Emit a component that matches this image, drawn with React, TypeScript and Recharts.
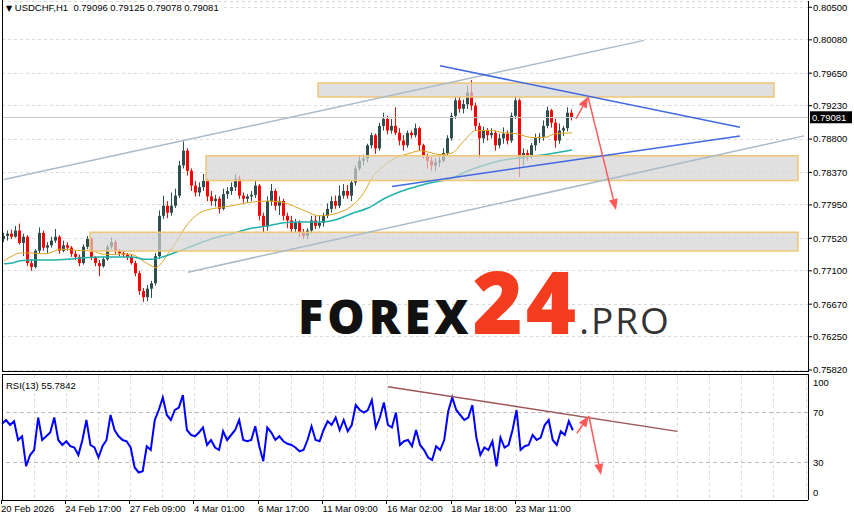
import React from "react";
import {
  ComposedChart,
  Bar,
  Line,
  XAxis,
  YAxis,
  CartesianGrid,
  ReferenceLine,
  ReferenceArea,
} from "recharts";

const FONT = '"Liberation Sans", Arial, sans-serif';
const BULL = "#2F4F4F";
const BEAR = "#FF0000";

const opens = [
  0.7751, 0.7755, 0.7758, 0.7754, 0.7762, 0.7746, 0.7754, 0.772, 0.7715, 0.7736,
  0.7759, 0.774, 0.7743, 0.7749, 0.7754, 0.7736, 0.7743, 0.774, 0.7732, 0.7728,
  0.772, 0.7741, 0.7751, 0.7728, 0.772, 0.7716, 0.7725, 0.7741, 0.7747, 0.7736,
  0.7733, 0.7731, 0.7728, 0.772, 0.7707, 0.7684, 0.7676, 0.7687, 0.7694, 0.7729,
  0.7781, 0.7794, 0.7785, 0.7794, 0.7807, 0.7846, 0.7865, 0.7839, 0.782, 0.7811,
  0.7818, 0.7826, 0.7806, 0.78, 0.7803, 0.779, 0.7809, 0.7813, 0.7818, 0.7829,
  0.7807, 0.7803, 0.7806, 0.7808, 0.782, 0.7781, 0.7767, 0.78, 0.7813, 0.7794,
  0.78, 0.7781, 0.7775, 0.7764, 0.7772, 0.7759, 0.7755, 0.7762, 0.7775, 0.7768,
  0.7772, 0.7781, 0.779, 0.78, 0.7794, 0.7807, 0.7813, 0.7807, 0.7824, 0.7842,
  0.7852, 0.7855, 0.7872, 0.7885, 0.7868, 0.7897, 0.7906, 0.7891, 0.7897, 0.7888,
  0.7878, 0.7872, 0.7888, 0.7885, 0.7894, 0.7872, 0.7859, 0.7852, 0.7846, 0.785,
  0.7852, 0.7862, 0.7881, 0.791, 0.793, 0.7919, 0.7925, 0.794, 0.7923, 0.7897,
  0.7881, 0.7891, 0.7885, 0.7888, 0.7872, 0.7881, 0.7887, 0.7878, 0.791, 0.793,
  0.7855, 0.7862, 0.7857, 0.7872, 0.7881, 0.7883, 0.7897, 0.7917, 0.7901, 0.7878,
  0.7891, 0.7894, 0.7914,
];
const highs = [
  0.7759, 0.7762, 0.7763, 0.7768, 0.7771, 0.7758, 0.7756, 0.7725, 0.7738, 0.7766,
  0.7762, 0.7747, 0.7754, 0.7764, 0.7756, 0.7749, 0.7747, 0.7742, 0.7736, 0.7731,
  0.7744, 0.7755, 0.7753, 0.7729, 0.7724, 0.7728, 0.7744, 0.7753, 0.775, 0.7738,
  0.7736, 0.7733, 0.7731, 0.7723, 0.771, 0.7688, 0.7692, 0.7697, 0.7733, 0.7788,
  0.7807, 0.78, 0.7811, 0.7816, 0.7852, 0.7877, 0.7868, 0.7842, 0.7826, 0.7824,
  0.7835, 0.7829, 0.7813, 0.7808, 0.7806, 0.7816, 0.7818, 0.7824, 0.7835, 0.7833,
  0.7811, 0.7809, 0.7813, 0.7826, 0.7822, 0.7785, 0.7806, 0.7822, 0.7816, 0.7806,
  0.7803, 0.7785, 0.7781, 0.7777, 0.7775, 0.7764, 0.7765, 0.7781, 0.7781, 0.7781,
  0.7785, 0.7797, 0.7806, 0.7807, 0.782, 0.7822, 0.7821, 0.7826, 0.7846, 0.7859,
  0.786, 0.7874, 0.7888, 0.7887, 0.7901, 0.7914, 0.791, 0.7906, 0.7921, 0.7894,
  0.7885, 0.7891, 0.7891, 0.79, 0.7896, 0.7874, 0.7861, 0.7857, 0.7855, 0.7857,
  0.7868, 0.7885, 0.7914, 0.7935, 0.7934, 0.7931, 0.7949, 0.7956, 0.7927, 0.7901,
  0.7896, 0.7894, 0.7894, 0.7891, 0.7887, 0.7895, 0.7891, 0.7914, 0.7936, 0.7932,
  0.7868, 0.7866, 0.7875, 0.7887, 0.7888, 0.7904, 0.7922, 0.7919, 0.7906, 0.79,
  0.7897, 0.7921, 0.7918,
];
const lows = [
  0.7747, 0.7749, 0.7751, 0.7753, 0.7744, 0.7729, 0.7716, 0.771, 0.7713, 0.7733,
  0.7736, 0.7733, 0.774, 0.7746, 0.7732, 0.7734, 0.7736, 0.7728, 0.7724, 0.7716,
  0.7718, 0.7738, 0.7724, 0.7716, 0.7703, 0.7714, 0.7723, 0.7738, 0.7732, 0.7729,
  0.7727, 0.7724, 0.7718, 0.7703, 0.7679, 0.767, 0.7671, 0.7675, 0.7691, 0.7725,
  0.7777, 0.7778, 0.7781, 0.7791, 0.7804, 0.7842, 0.7833, 0.7813, 0.7806, 0.7806,
  0.7813, 0.78, 0.7794, 0.7793, 0.7784, 0.7788, 0.7803, 0.7808, 0.7813, 0.7803,
  0.7798, 0.7798, 0.78, 0.7804, 0.7775, 0.7759, 0.7762, 0.7794, 0.7788, 0.7782,
  0.7775, 0.7765, 0.7759, 0.7759, 0.7754, 0.7751, 0.7751, 0.7758, 0.7764, 0.7765,
  0.7767, 0.7778, 0.7785, 0.779, 0.7791, 0.7803, 0.7803, 0.78, 0.782, 0.7839,
  0.7846, 0.785, 0.7868, 0.7861, 0.7865, 0.7891, 0.7886, 0.7887, 0.7885, 0.7872,
  0.7865, 0.7869, 0.7881, 0.7882, 0.7865, 0.7855, 0.7842, 0.7839, 0.7839, 0.7844,
  0.785, 0.7859, 0.7878, 0.7906, 0.7914, 0.7913, 0.7919, 0.7917, 0.7891, 0.7856,
  0.7875, 0.7878, 0.7881, 0.7865, 0.7868, 0.7874, 0.7873, 0.7875, 0.7906, 0.7831,
  0.7846, 0.7852, 0.7855, 0.7865, 0.7875, 0.7878, 0.7894, 0.7895, 0.7869, 0.7874,
  0.7884, 0.789, 0.7904,
];
const closes = [
  0.7755, 0.7758, 0.7754, 0.7762, 0.7746, 0.7754, 0.772, 0.7715, 0.7736, 0.7759,
  0.774, 0.7743, 0.7749, 0.7754, 0.7736, 0.7743, 0.774, 0.7732, 0.7728, 0.772,
  0.7741, 0.7751, 0.7728, 0.772, 0.7716, 0.7725, 0.7741, 0.7747, 0.7736, 0.7733,
  0.7731, 0.7728, 0.772, 0.7707, 0.7684, 0.7676, 0.7687, 0.7694, 0.7729, 0.7781,
  0.7794, 0.7785, 0.7794, 0.7807, 0.7846, 0.7865, 0.7839, 0.782, 0.7811, 0.7818,
  0.7826, 0.7806, 0.78, 0.7803, 0.779, 0.7809, 0.7813, 0.7818, 0.7829, 0.7807,
  0.7803, 0.7806, 0.7808, 0.782, 0.7781, 0.7767, 0.78, 0.7813, 0.7794, 0.78,
  0.7781, 0.7775, 0.7764, 0.7772, 0.7759, 0.7755, 0.7762, 0.7775, 0.7768, 0.7772,
  0.7781, 0.779, 0.78, 0.7794, 0.7807, 0.7813, 0.7807, 0.7824, 0.7842, 0.7852,
  0.7855, 0.7872, 0.7885, 0.7868, 0.7897, 0.7906, 0.7891, 0.7897, 0.7888, 0.7878,
  0.7872, 0.7888, 0.7885, 0.7894, 0.7872, 0.7859, 0.7852, 0.7846, 0.785, 0.7852,
  0.7862, 0.7881, 0.791, 0.793, 0.7919, 0.7925, 0.794, 0.7923, 0.7897, 0.7881,
  0.7891, 0.7885, 0.7888, 0.7872, 0.7881, 0.7887, 0.7878, 0.791, 0.793, 0.7855,
  0.7862, 0.7857, 0.7872, 0.7881, 0.7883, 0.7897, 0.7917, 0.7901, 0.7878, 0.7891,
  0.7894, 0.7914, 0.79081,
];

// moving averages, read at a handful of candles
const maFastSlots = [
  0, 2, 4, 7, 10, 12, 14, 17, 19, 22, 24, 27, 29, 32, 33, 35, 37, 38, 39, 41, 43, 46, 49,
  53, 57, 61, 66, 70, 74, 79, 83, 87, 90, 92, 95, 98, 101, 104, 107, 109, 112, 115, 118,
  122, 125, 128, 132, 135, 138, 142,
];
const maFastValues = [
  0.7723, 0.7729, 0.7733, 0.7733, 0.7732, 0.7734, 0.7738, 0.7737, 0.7736, 0.7736, 0.7732,
  0.7731, 0.7732, 0.7731, 0.7729, 0.7722, 0.7716, 0.7714, 0.7718, 0.7732, 0.7747, 0.7771,
  0.7785, 0.7791, 0.7794, 0.7798, 0.78, 0.7798, 0.779, 0.7781, 0.7784, 0.7794, 0.7811,
  0.783, 0.7846, 0.7856, 0.7861, 0.7865, 0.7862, 0.786, 0.7862, 0.7878, 0.7891, 0.7891,
  0.7888, 0.7887, 0.7882, 0.7882, 0.7887, 0.7888,
];
const maSlowSlots = [
  0, 2, 4, 7, 12, 16, 20, 24, 28, 32, 35, 37, 39, 43, 49, 53, 57, 61, 66, 70, 74, 79, 83,
  87, 91, 95, 99, 104, 107, 111, 117, 124, 129, 134, 142,
];
const maSlowValues = [
  0.7719, 0.772, 0.7723, 0.7724, 0.7724, 0.7725, 0.7727, 0.7728, 0.7728, 0.7728, 0.7725,
  0.7725, 0.7727, 0.7734, 0.7746, 0.7753, 0.7758, 0.7764, 0.7768, 0.7772, 0.7773, 0.7773,
  0.7776, 0.7784, 0.7791, 0.7803, 0.7812, 0.782, 0.7824, 0.7828, 0.7841, 0.7852, 0.7856,
  0.7859, 0.7866,
];

// RSI(13), one value per candle
const rsiValues = [
  61, 64, 60, 63, 48, 51, 27, 36, 40, 66, 48, 51, 54, 66, 48, 44, 47, 43, 42, 36, 48, 64,
  44, 42, 34, 43, 48, 68, 56, 51, 48, 47, 42, 26, 22, 23, 43, 40, 64, 72, 82, 68, 64, 72,
  74, 84, 56, 52, 51, 54, 58, 44, 48, 42, 40, 55, 48, 52, 56, 64, 48, 47, 48, 59, 43, 31,
  58, 54, 48, 51, 47, 45, 44, 42, 39, 40, 48, 59, 48, 47, 56, 63, 60, 66, 56, 64, 55, 60,
  76, 72, 70, 72, 80, 58, 66, 78, 60, 58, 70, 44, 47, 48, 43, 56, 44, 40, 34, 32, 43, 40,
  48, 71, 82, 72, 68, 64, 66, 76, 50, 36, 42, 40, 47, 27, 50, 42, 44, 56, 72, 40, 43, 44,
  52, 48, 50, 60, 64, 48, 44, 55, 52, 63, 55.7842,
];

const priceTicks = [
  0.805, 0.8008, 0.7965, 0.7923, 0.788, 0.7837, 0.7795, 0.7752, 0.771, 0.7667, 0.7625,
  0.7582,
];
const rsiTicks = [0, 30, 70, 100];
const gridSlots = [
  0, 8, 16, 24, 32, 40, 48, 56, 64, 72, 80, 88, 96, 104, 112, 120, 128, 136, 144, 152, 160,
  168, 176, 184, 192, 200,
];
const dateSlots = [0, 16, 32, 48, 64, 80, 96, 112, 128];
const dateLabels = [
  "20 Feb 2026",
  "24 Feb 17:00",
  "27 Feb 09:00",
  "4 Mar 01:00",
  "6 Mar 17:00",
  "11 Mar 09:00",
  "16 Mar 02:00",
  "18 Mar 18:00",
  "23 Mar 11:00",
];

// drawn objects: [slot, price] pairs
const channelUpper = [[0, 0.78277], [160, 0.80073]];
const channelLower = [[46, 0.77083], [200, 0.78841]];
const wedgeTop = [[109, 0.79745], [184, 0.78953]];
const wedgeBottom = [[97, 0.78189], [184, 0.7884]];
const arrowUp = [[143, 0.79059], [146, 0.79347]];
const arrowDown = [[146, 0.79347], [153, 0.77885]];
const zones = [
  { x1: 79, x2: 192, y1: 0.79343, y2: 0.79523 },
  { x1: 51, x2: 198, y1: 0.78266, y2: 0.78585 },
  { x1: 22, x2: 198, y1: 0.77356, y2: 0.77597 },
];
const rsiTrend = [[96, 90.6], [168, 54.9]];
const rsiArrowUp = [[143, 53.4], [146, 67.2]];
const rsiArrowDown = [[146, 67.2], [149, 20]];

const SLOTS = 201;
const lastPrice = closes[closes.length - 1];

const fastBySlot = new Map(maFastSlots.map((s, k) => [s, maFastValues[k]]));
const slowBySlot = new Map(maSlowSlots.map((s, k) => [s, maSlowValues[k]]));
const labelBySlot = new Map(dateSlots.map((s, k) => [s, dateLabels[k]]));

const rows = Array.from({ length: SLOTS }, (_, i) => {
  const has = i < closes.length;
  return {
    i,
    range: has ? [lows[i], highs[i]] : null,
    o: has ? opens[i] : null,
    h: has ? highs[i] : null,
    l: has ? lows[i] : null,
    c: has ? closes[i] : null,
    maFast: fastBySlot.get(i) ?? null,
    maSlow: slowBySlot.get(i) ?? null,
    rsi: has ? rsiValues[i] : null,
  };
});

const seg = (pts: number[][]) => pts.map(([x, y]) => ({ x, y }));

function Candle(props: any) {
  const { x, y, width, height, payload } = props;
  if (!payload || payload.h == null || width == null) return null;
  const top = Math.min(y, y + height);
  const bottom = Math.max(y, y + height);
  const span = payload.h - payload.l;
  const at = (p: number) => (span > 0 ? top + ((payload.h - p) / span) * (bottom - top) : top);
  const color = payload.c >= payload.o ? BULL : BEAR;
  const left = Math.round(x);
  const bTop = at(Math.max(payload.o, payload.c));
  const bBot = at(Math.min(payload.o, payload.c));
  return (
    <g>
      <rect x={left + 1} y={top} width={1} height={Math.max(1, bottom - top)} fill={color} />
      <rect x={left} y={bTop} width={3} height={Math.max(1, bBot - bTop)} fill={color} />
    </g>
  );
}

function ArrowShape(props: any) {
  const { x1, y1, x2, y2 } = props;
  const a = Math.atan2(y2 - y1, x2 - x1);
  const len = 11;
  const half = 4.5;
  const bx = x2 - len * Math.cos(a);
  const by = y2 - len * Math.sin(a);
  const px = -Math.sin(a) * half;
  const py = Math.cos(a) * half;
  return (
    <g>
      <line x1={x1} y1={y1} x2={bx} y2={by} stroke="#FF5A5A" strokeWidth={1.5} />
      <polygon
        points={`${x2},${y2} ${bx + px},${by + py} ${bx - px},${by - py}`}
        fill="#FF5A5A"
      />
    </g>
  );
}

function PriceTag(props: any) {
  const vb = props.viewBox;
  if (!vb) return null;
  const x = vb.x + vb.width;
  return (
    <g>
      <rect x={x + 2} y={vb.y - 6} width={42} height={12} fill="#000" />
      <text x={x + 4} y={vb.y} dy="0.35em" fontSize={9.5} fontFamily={FONT} fill="#fff">
        {lastPrice.toFixed(5)}
      </text>
    </g>
  );
}

function RsiTick(props: any) {
  const { x, y, payload } = props;
  const v = payload.value;
  const shift = v === 100 ? 8 : v === 0 ? -7 : 0;
  return (
    <text x={x} y={y + shift} dy="0.35em" fontSize={9.5} fontFamily={FONT} fill="#000">
      {v}
    </text>
  );
}

function DateTick(props: any) {
  const { x, y, payload } = props;
  const label = labelBySlot.get(payload.value);
  if (!label) return null;
  return (
    <g>
      <line x1={x - 1} x2={x - 1} y1={y} y2={y + 4} stroke="#000" shapeRendering="crispEdges" />
      <text x={x - 1} y={y + 12} fontSize={9.5} fontFamily={FONT} fill="#000">
        {label}
      </text>
    </g>
  );
}

const axisLine = { stroke: "#000", shapeRendering: "crispEdges" };

export default function App() {
  return (
    <div
      style={{
        position: "absolute",
        left: 0,
        top: 0,
        width: 854,
        height: 521,
        background: "#fff",
        overflow: "hidden",
        fontFamily: FONT,
      }}
    >
      <div style={{ position: "absolute", left: 0, top: 0 }}>
        <ComposedChart
          width={854}
          height={377}
          data={rows}
          margin={{ top: 1, right: 0, bottom: 6, left: 2 }}
          barCategoryGap={0}
          barGap={0}
        >
          <CartesianGrid stroke="#DADADA" strokeDasharray="3 3" shapeRendering="crispEdges" />
          <XAxis
            dataKey="i"
            type="category"
            ticks={gridSlots}
            interval={0}
            tick={false}
            tickLine={false}
            axisLine={false}
            height={0}
            padding={{ left: 0, right: 2 }}
          />
          <YAxis
            orientation="right"
            width={46}
            type="number"
            domain={[0.75808, 0.80581]}
            allowDataOverflow
            ticks={priceTicks}
            interval={0}
            tickFormatter={(v: number) => v.toFixed(5)}
            tick={{ fontSize: 9.5, fill: "#000", fontFamily: FONT }}
            tickSize={4}
            tickMargin={1}
            axisLine={axisLine}
            tickLine={{ stroke: "#000" }}
          />
          <ReferenceLine
            y={lastPrice}
            stroke="#C8C8C8"
            shapeRendering="crispEdges"
            label={PriceTag}
          />
          <Bar dataKey="range" shape={<Candle />} isAnimationActive={false} />
          <Line
            dataKey="maFast"
            type="monotone"
            stroke="#DAA520"
            strokeWidth={1}
            dot={false}
            connectNulls
            isAnimationActive={false}
          />
          <Line
            dataKey="maSlow"
            type="monotone"
            stroke="#20B2AA"
            strokeWidth={1.5}
            dot={false}
            connectNulls
            isAnimationActive={false}
          />
          {zones.map((z, k) => (
            <ReferenceArea
              key={k}
              x1={z.x1}
              x2={z.x2}
              y1={z.y1}
              y2={z.y2}
              fill="#D3D3D3"
              fillOpacity={0.7}
              stroke="#F0C674"
              strokeWidth={1.5}
              zIndex={600}
            />
          ))}
          <ReferenceLine segment={seg(channelUpper)} stroke="#A9BBCA" strokeWidth={1.5} zIndex={700} />
          <ReferenceLine segment={seg(channelLower)} stroke="#A9BBCA" strokeWidth={1.5} zIndex={700} />
          <ReferenceLine segment={seg(wedgeTop)} stroke="#4169E1" strokeWidth={1.5} zIndex={700} />
          <ReferenceLine segment={seg(wedgeBottom)} stroke="#4169E1" strokeWidth={1.5} zIndex={700} />
          <ReferenceLine segment={seg(arrowUp)} shape={ArrowShape} zIndex={700} />
          <ReferenceLine segment={seg(arrowDown)} shape={ArrowShape} zIndex={700} />
        </ComposedChart>
      </div>

      <div style={{ position: "absolute", left: 0, top: 374 }}>
        <ComposedChart
          width={854}
          height={147}
          data={rows}
          margin={{ top: 1, right: 0, bottom: 0, left: 2 }}
        >
          <CartesianGrid
            stroke="#DADADA"
            strokeDasharray="3 3"
            horizontal={false}
            shapeRendering="crispEdges"
          />
          <XAxis
            dataKey="i"
            type="category"
            ticks={gridSlots}
            interval={0}
            tick={<DateTick />}
            tickLine={false}
            tickSize={0}
            tickMargin={0}
            axisLine={axisLine}
            height={21}
            padding={{ left: 0, right: 2 }}
          />
          <YAxis
            orientation="right"
            width={46}
            type="number"
            domain={[0, 100]}
            allowDataOverflow
            ticks={rsiTicks}
            interval={0}
            tick={<RsiTick />}
            tickSize={4}
            tickMargin={1}
            axisLine={axisLine}
            tickLine={false}
          />
          <ReferenceLine y={70} stroke="#BBBBBB" strokeDasharray="4 3" shapeRendering="crispEdges" />
          <ReferenceLine y={30} stroke="#BBBBBB" strokeDasharray="4 3" shapeRendering="crispEdges" />
          <Line
            dataKey="rsi"
            type="linear"
            stroke="#0000FF"
            strokeWidth={2}
            dot={false}
            isAnimationActive={false}
          />
          <ReferenceLine segment={seg(rsiTrend)} stroke="#9E5555" strokeWidth={1.5} zIndex={700} />
          <ReferenceLine segment={seg(rsiArrowUp)} shape={ArrowShape} zIndex={700} />
          <ReferenceLine segment={seg(rsiArrowDown)} shape={ArrowShape} zIndex={700} />
        </ComposedChart>
      </div>

      {/* panel frames */}
      <div style={{ position: "absolute", left: 2, top: 0, width: 1, height: 372, background: "#000" }} />
      <div style={{ position: "absolute", left: 2, top: 371, width: 807, height: 1, background: "#000" }} />
      <div style={{ position: "absolute", left: 2, top: 374, width: 807, height: 1, background: "#000" }} />
      <div style={{ position: "absolute", left: 2, top: 374, width: 1, height: 127, background: "#000" }} />

      <div
        style={{
          position: "absolute",
          left: 4,
          top: 2,
          padding: "0 2px",
          background: "#fff",
          fontSize: 9.5,
          lineHeight: "11px",
          whiteSpace: "pre",
          color: "#000",
        }}
      >
        <span style={{ fontFamily: '"DejaVu Sans"', fontSize: 8 }}>▼</span>
        {" USDCHF,H1  0.79096 0.79125 0.79078 0.79081"}
      </div>
      <div
        style={{
          position: "absolute",
          left: 6,
          top: 380,
          fontSize: 9.5,
          lineHeight: "11px",
          whiteSpace: "pre",
          color: "#000",
        }}
      >
        RSI(13) 55.7842
      </div>

      <div
        style={{
          position: "absolute",
          left: 298,
          top: 258,
          whiteSpace: "pre",
          lineHeight: 1,
          display: "flex",
          alignItems: "baseline",
          fontFamily: '"Open Sans", Inter, sans-serif',
        }}
      >
        <span style={{ fontSize: 47, fontWeight: 800, color: "#111", letterSpacing: 4 }}>FOREX</span>
        <span style={{ fontSize: 86, fontWeight: 800, color: "#F43C1E", letterSpacing: 3 }}>24</span>
        <span style={{ fontSize: 37, fontWeight: 400, color: "#333", letterSpacing: 2 }}>.PRO</span>
      </div>
    </div>
  );
}
